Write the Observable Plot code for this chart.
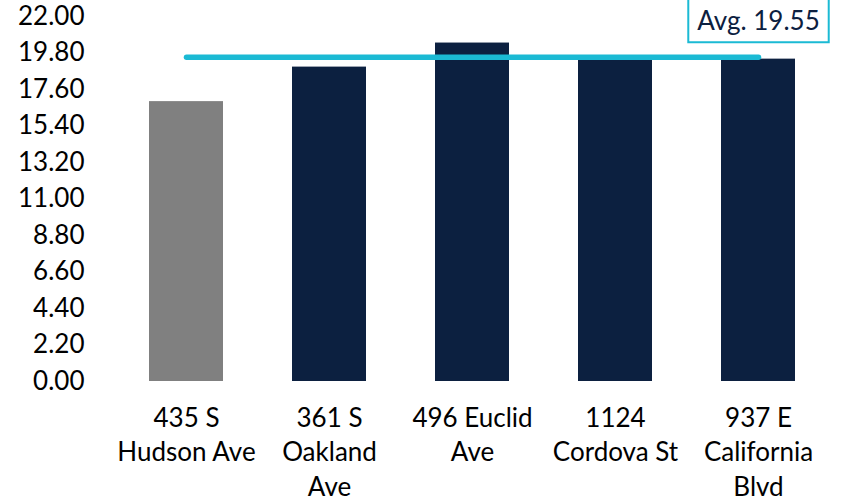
<!DOCTYPE html>
<html>
<head>
<meta charset="utf-8">
<script src="https://cdn.jsdelivr.net/npm/d3@7"></script>
<script src="https://cdn.jsdelivr.net/npm/@observablehq/plot@0.6"></script>
<style>
  html, body { margin: 0; padding: 0; background: #fff; }
  #chart svg { display: block; }
</style>
</head>
<body>
<div id="chart"></div>
<script>
// Properties compared, rent per square foot
const properties = ["435 S\nHudson Ave", "361 S\nOakland\nAve", "496 Euclid\nAve", "1124\nCordova St", "937 E\nCalifornia\nBlvd"];
const rents = [16.87, 18.95, 20.40, 19.42, 19.43];
const roles = ["subject", "comp", "comp", "comp", "comp"];

// Average of the comparables
const average = 19.55;

// Value-axis tick labels
const yTicks = [0, 2.2, 4.4, 6.6, 8.8, 11, 13.2, 15.4, 17.6, 19.8, 22];

const bars = properties.map((name, i) => ({name, rent: rents[i], role: roles[i]}));
const avgLine = properties.map(name => ({name, value: average}));

const fmt = d3.format(".2f");
const cyan = "#1BBAD4";
const navy = "#0C2040";
const avgText = `Avg. ${fmt(average)}`;

const chart = Plot.plot({
  width: 842,
  height: 503,
  marginLeft: 113,
  marginRight: 11,
  marginTop: 16,
  marginBottom: 122,
  style: {fontFamily: "Lato, 'Open Sans', sans-serif", fontSize: "26px", color: "#000", background: "#fff"},
  x: {domain: properties, paddingInner: 0.484, paddingOuter: 0.244, label: null},
  y: {domain: [0, 22], label: null},
  color: {domain: ["subject", "comp"], range: ["#808080", navy]},
  marks: [
    Plot.barY(bars, {x: "name", y: "rent", fill: "role"}),
    Plot.line(avgLine, {x: "name", y: "value", stroke: cyan, strokeWidth: 5.5, strokeLinecap: "round"}),
    Plot.axisY({ticks: yTicks, tickFormat: fmt, tickSize: 0, tickPadding: 29, label: null, fontSize: 26}),
    Plot.axisX({tickSize: 0, tickPadding: 21, lineHeight: 1.32, label: null, fontSize: 26}),
    Plot.text([average], {
      x: () => properties[properties.length - 1],
      y: d => d,
      text: () => avgText,
      dy: -35.7,
      fill: navy,
      fontSize: 26
    })
  ]
});

document.getElementById("chart").appendChild(chart);

// Framed box behind the average label: it runs off the top edge and
// stops a little above the average line
const labelText = Array.from(chart.querySelectorAll("text")).find(t => t.textContent === avgText);
if (labelText) {
  const sr = chart.getBoundingClientRect();
  const tr = labelText.getBoundingClientRect();
  const padX = 9;
  const top = -2;
  const bottom = chart.scale("y").apply(average) - 14.4;
  const rect = document.createElementNS("http://www.w3.org/2000/svg", "rect");
  rect.setAttribute("x", tr.left - sr.left - padX);
  rect.setAttribute("y", top);
  rect.setAttribute("width", tr.width + 2 * padX);
  rect.setAttribute("height", bottom - top);
  rect.setAttribute("fill", "#fff");
  rect.setAttribute("stroke", cyan);
  rect.setAttribute("stroke-width", 2);
  // place the box just beneath the label's group
  let group = labelText;
  while (group.parentNode !== chart) group = group.parentNode;
  chart.insertBefore(rect, group);
}
</script>
</body>
</html>
